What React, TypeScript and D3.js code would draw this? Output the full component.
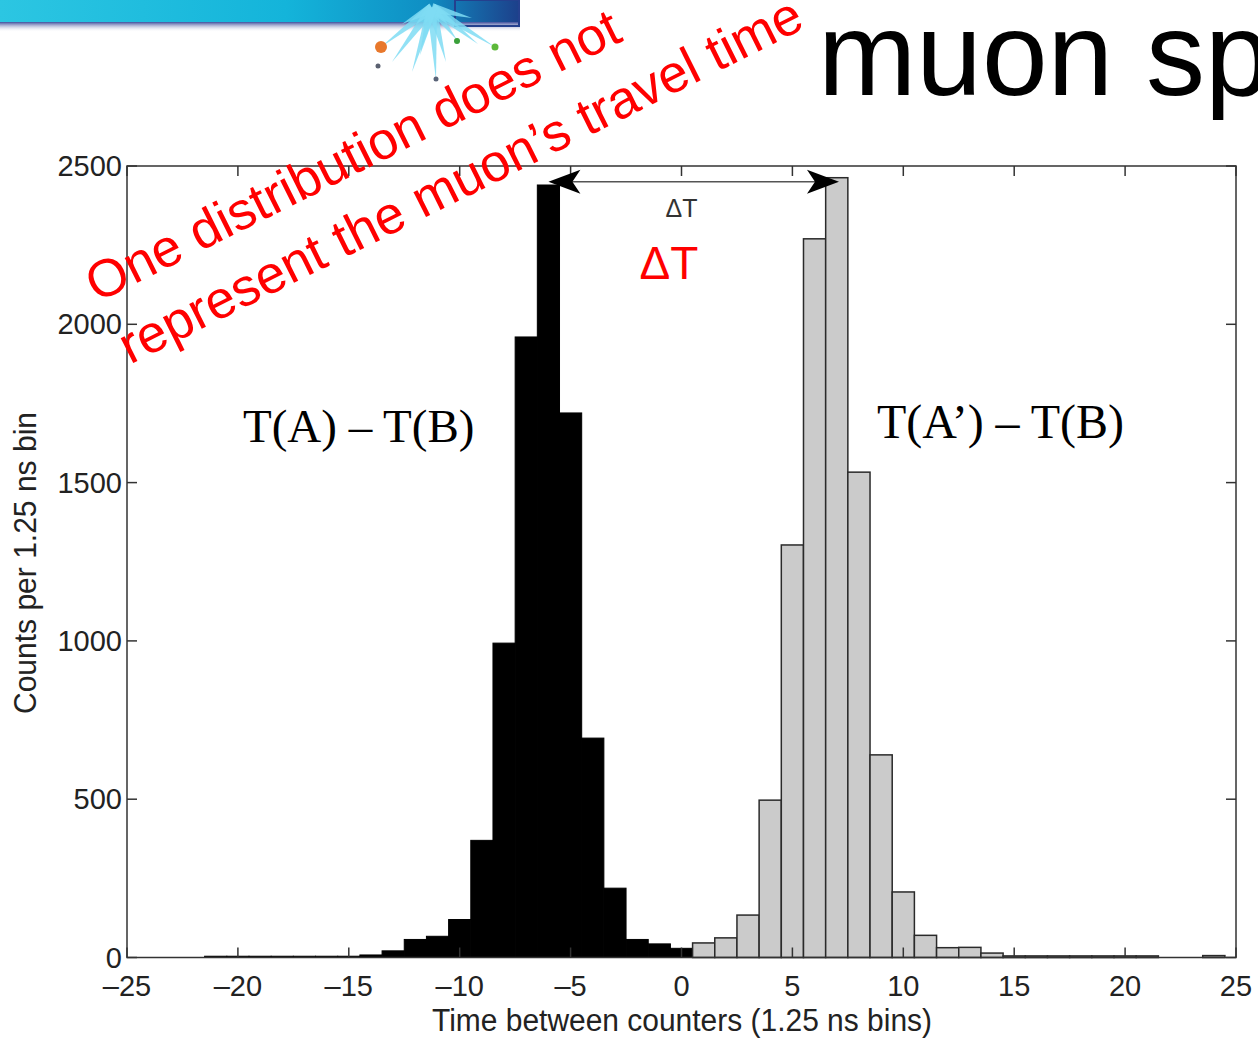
import React from "react";
import * as d3 from "d3";

// histogram counts (1 unit wide bins, centred on integers)
const blackBins = [-21, -20, -19, -18, -17, -16, -15, -14, -13, -12, -11, -10, -9, -8, -7, -6, -5, -4, -3, -2, -1, 0, 1, 2, 3, 4];
const blackCounts = [4, 4, 4, 4, 4, 4, 4, 8, 21, 57, 67, 120, 370, 993, 1960, 2440, 1720, 693, 219, 57, 43, 29, 12, 8, 5, 4];
const greyBins = [1, 2, 3, 4, 5, 6, 7, 8, 9, 10, 11, 12, 13, 14, 15, 16, 17, 18, 19, 20, 21, 22, 23, 24];
const greyCounts = [46, 62, 134, 497, 1303, 2270, 2463, 1533, 640, 207, 70, 31, 32, 14, 5, 5, 5, 5, 5, 5, 5, 0, 0, 6];

const xTicks = [-25, -20, -15, -10, -5, 0, 5, 10, 15, 20, 25];
const yTicks = [0, 500, 1000, 1500, 2000, 2500];

const arrowFrom = -6;
const arrowTo = 7.1;
const arrowLevel = 2450;

const title = "muon sp";
const xLabel = "Time between counters (1.25 ns bins)";
const yLabel = "Counts per 1.25 ns bin";
const leftLabel = "T(A) \u2013 T(B)";
const rightLabel = "T(A\u2019) \u2013 T(B)";
const noteLine1 = "One distribution does not";
const noteLine2 = "represent the muon\u2019s travel time";

const width = 1258;
const height = 1045;
const sans = "'Liberation Sans', Arial, Helvetica, sans-serif";
const serif = "'Liberation Serif', 'Times New Roman', serif";

export default function App() {
  const x = d3.scaleLinear().domain([-25, 25]).range([127, 1236]);
  const y = d3.scaleLinear().domain([0, 2500]).range([957.5, 166]);
  const fmt = (v: number) => String(v).replace("-", "\u2013");

  const x0 = x(-25), x1 = x(25), y0 = y(0), y1 = y(2500);
  const ay = y(arrowLevel);
  const ax0 = x(arrowFrom), ax1 = x(arrowTo);

  // decorative starburst from the slide template
  const rays = [
    [381, 47], [392, 62], [412, 72], [436, 80], [446, 62], [457, 40],
    [478, 44], [495, 47], [472, 18], [402, 24], [420, 55],
  ];

  return (
    <svg
      width={width}
      height={height}
      style={{ position: "absolute", left: 0, top: 0, display: "block", background: "#fff" }}
    >
      <defs>
        <linearGradient id="banner" x1="0" x2="1" y1="0" y2="0">
          <stop offset="0%" stopColor="#2cc6e2" />
          <stop offset="55%" stopColor="#14b4da" />
          <stop offset="82%" stopColor="#0f8fc4" />
          <stop offset="100%" stopColor="#1d3f8a" />
        </linearGradient>
        <linearGradient id="fade" x1="0" x2="0" y1="0" y2="1">
          <stop offset="0%" stopColor="#2a3c92" stopOpacity={0.9} />
          <stop offset="100%" stopColor="#ffffff" stopOpacity={0} />
        </linearGradient>
      </defs>

      {/* slide banner */}
      <rect x={0} y={0} width={520} height={22} fill="url(#banner)" />
      <rect x={0} y={22} width={520} height={10} fill="url(#fade)" />
      <rect x={455} y={0} width={64} height={26} fill="none" stroke="#24408e" strokeWidth={2} />
      {rays.map(([rx, ry], i) => {
        const cx = 432, cy = 8;
        const dx = rx - cx, dy = ry - cy;
        const len = Math.hypot(dx, dy);
        const nx = (-dy / len) * 5, ny = (dx / len) * 5;
        return (
          <polygon
            key={i}
            points={`${cx + nx},${cy + ny} ${rx},${ry} ${cx - nx},${cy - ny}`}
            fill="#7fdcf3"
            opacity={0.85}
          />
        );
      })}
      <circle cx={381} cy={47} r={6} fill="#e8782c" />
      <circle cx={378} cy={66} r={2.5} fill="#5a6070" />
      <circle cx={436} cy={79} r={2.5} fill="#5a6478" />
      <circle cx={457} cy={41} r={3} fill="#3aa03a" />
      <circle cx={495} cy={47} r={3.5} fill="#5cb83a" />

      {/* slide title */}
      <text x={818} y={95} fontFamily={sans} fontSize={118} fill="#000">
        {title}
      </text>

      {/* bars */}
      <g>
        {blackBins.map((b, i) => (
          <rect
            key={"k" + b}
            x={x(b - 0.5)}
            y={y(blackCounts[i])}
            width={x(b + 0.5) - x(b - 0.5)}
            height={y0 - y(blackCounts[i])}
            fill="#000"
            stroke="#000"
            strokeWidth={1}
          />
        ))}
        {greyBins.map((b, i) =>
          greyCounts[i] > 0 ? (
            <rect
              key={"g" + b}
              x={x(b - 0.5)}
              y={y(greyCounts[i])}
              width={x(b + 0.5) - x(b - 0.5)}
              height={y0 - y(greyCounts[i])}
              fill="#cbcbcb"
              stroke="#2a2a2a"
              strokeWidth={1.5}
            />
          ) : null
        )}
      </g>

      {/* axes box with inward ticks */}
      <g stroke="#333" strokeWidth={1.5} fill="none">
        <rect x={x0} y={y1} width={x1 - x0} height={y0 - y1} />
        {xTicks.map((t) => (
          <g key={"xt" + t}>
            <line x1={x(t)} x2={x(t)} y1={y0} y2={y0 - 10} />
            <line x1={x(t)} x2={x(t)} y1={y1} y2={y1 + 10} />
          </g>
        ))}
        {yTicks.map((t) => (
          <g key={"yt" + t}>
            <line x1={x0} x2={x0 + 10} y1={y(t)} y2={y(t)} />
            <line x1={x1} x2={x1 - 10} y1={y(t)} y2={y(t)} />
          </g>
        ))}
      </g>
      <g fontFamily={sans} fontSize={29} fill="#222">
        {xTicks.map((t) => (
          <text key={"xl" + t} x={x(t)} y={996} textAnchor="middle">
            {fmt(t)}
          </text>
        ))}
        {yTicks.map((t) => (
          <text key={"yl" + t} x={122} y={y(t) + 10} textAnchor="end">
            {t}
          </text>
        ))}
      </g>
      <text
        x={682}
        y={1031}
        textAnchor="middle"
        fontFamily={sans}
        fontSize={31}
        fill="#222"
        textLength={500}
        lengthAdjust="spacingAndGlyphs"
      >
        {xLabel}
      </text>
      <text
        transform="translate(36,563) rotate(-90)"
        textAnchor="middle"
        fontFamily={sans}
        fontSize={31}
        fill="#222"
        textLength={302}
        lengthAdjust="spacingAndGlyphs"
      >
        {yLabel}
      </text>

      {/* delta-T arrow */}
      <line x1={ax0 + 20} x2={ax1 - 20} y1={ay} y2={ay} stroke="#555" strokeWidth={1.5} />
      <path
        d={`M${ax0},${ay} L${ax0 + 32},${ay - 12} L${ax0 + 24},${ay} L${ax0 + 32},${ay + 12} Z`}
        fill="#000"
      />
      <path
        d={`M${ax1},${ay} L${ax1 - 32},${ay - 12} L${ax1 - 24},${ay} L${ax1 - 32},${ay + 12} Z`}
        fill="#000"
      />
      <text x={x(0)} y={217} textAnchor="middle" fontFamily={sans} fontSize={25} fill="#333">
        {"\u0394T"}
      </text>
      <text x={669} y={279} textAnchor="middle" fontFamily={sans} fontSize={46} fill="#ff0000">
        {"\u0394T"}
      </text>

      {/* distribution labels */}
      <text x={243} y={442} fontFamily={serif} fontSize={47} fill="#000">
        {leftLabel}
      </text>
      <text x={877} y={438} fontFamily={serif} fontSize={48} fill="#000">
        {rightLabel}
      </text>

      {/* red note */}
      <g transform="translate(97,303) rotate(-26.5)" fontFamily={sans} fontSize={53} fill="#ff0000">
        <text x={0} y={0}>{noteLine1}</text>
        <text x={2} y={70}>{noteLine2}</text>
      </g>
    </svg>
  );
}
